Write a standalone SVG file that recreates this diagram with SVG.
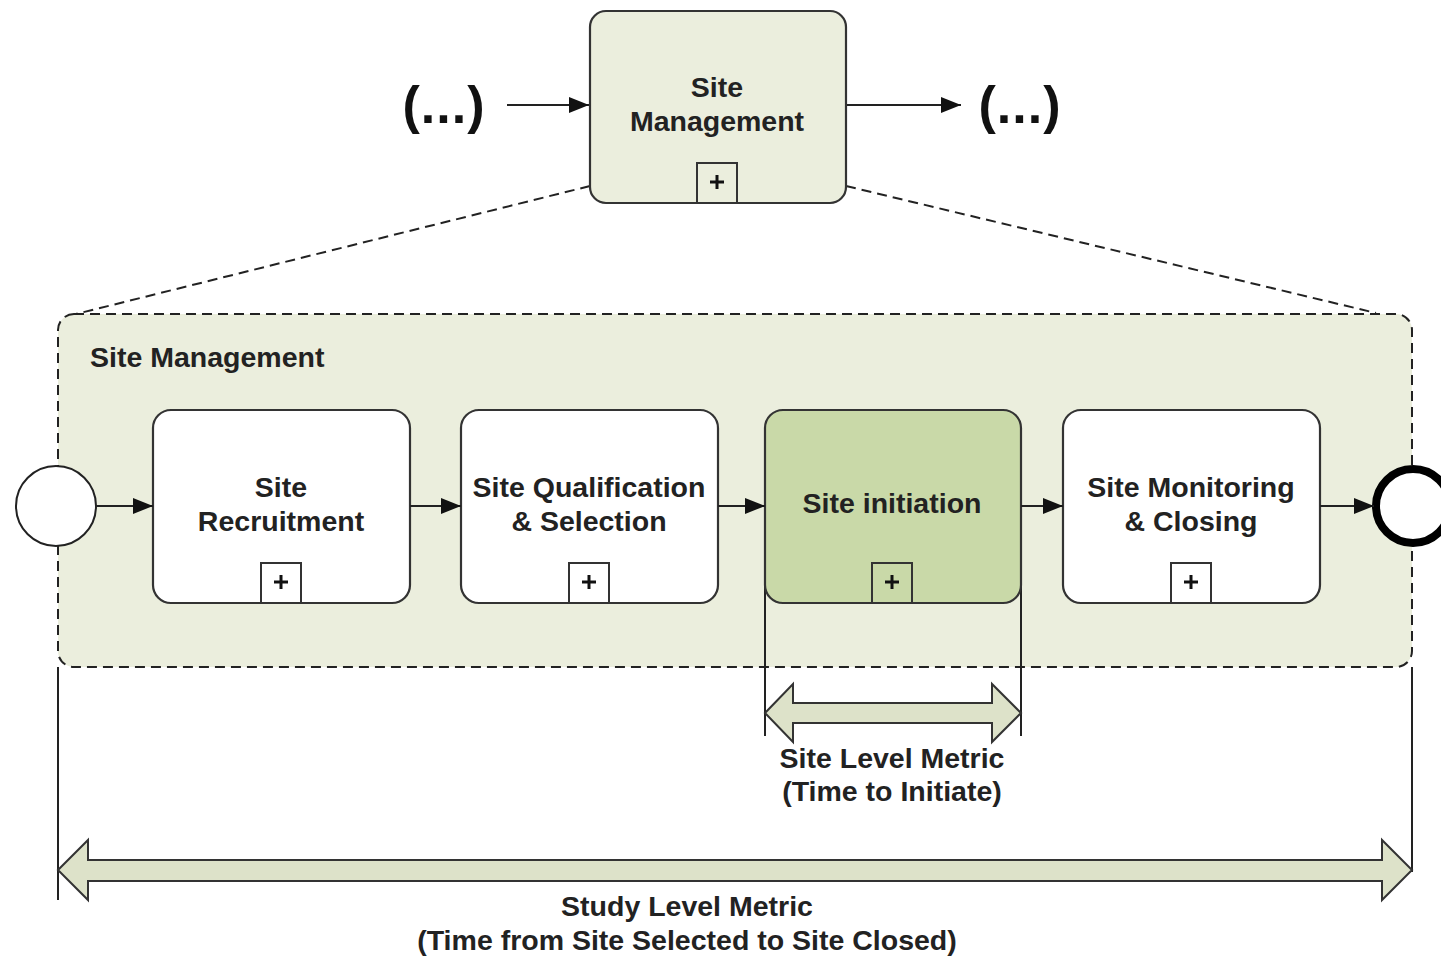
<svg xmlns="http://www.w3.org/2000/svg" width="1441" height="958" viewBox="0 0 1441 958">
  <style>
    .lbl { font-family: "Liberation Sans", Arial, sans-serif; font-weight: bold; font-size: 28.5px; fill: #222; text-anchor: middle; }
    .task { stroke: #333; stroke-width: 2.2; }
    .plus { fill: none; stroke: #333; stroke-width: 2; }
    .plusmark { stroke: #111; stroke-width: 3; }
    .flow { stroke: #222; stroke-width: 2; fill: none; }
    .dash { stroke: #222; stroke-width: 2; fill: none; stroke-dasharray: 10 6; }
    .pool { fill: #ebeedd; stroke: #222; stroke-width: 2; stroke-dasharray: 10 6; }
    .metric { fill: #dde2c9; stroke: #333; stroke-width: 2; }
    .bound { stroke: #222; stroke-width: 2; fill: none; }
    .ell { font-family: "Liberation Sans", Arial, sans-serif; font-weight: bold; font-size: 52px; fill: #111; text-anchor: middle; letter-spacing: 1px; }
  </style>
  <defs>
    <marker id="arrow" viewBox="0 0 20 16" refX="20" refY="8" markerWidth="20" markerHeight="16" markerUnits="userSpaceOnUse" orient="auto">
      <path d="M0,0 L20,8 L0,16 Z" fill="#111"/>
    </marker>
    <g id="plusIcon">
      <rect x="-20" y="-40" width="40" height="40" fill="#fff" class="plus"/>
      <line x1="-7" y1="-21" x2="7" y2="-21" class="plusmark"/>
      <line x1="0" y1="-28" x2="0" y2="-14" class="plusmark"/>
    </g>
  </defs>

  <rect width="1441" height="958" fill="#fff"/>

  <!-- expansion guides from collapsed sub-process to its expanded view -->
  <g id="guides">
    <line x1="590" y1="186" x2="76" y2="314" class="dash"/>
    <line x1="846" y1="186" x2="1376" y2="313" class="dash"/>
  </g>

  <!-- expanded sub-process container -->
  <g id="container">
    <rect x="58" y="314" width="1354" height="353" rx="16" class="pool"/>
    <text x="90" y="367" class="lbl" style="text-anchor:start">Site Management</text>
  </g>

  <!-- collapsed sub-process -->
  <g id="site-management">
    <rect x="590" y="11" width="256" height="192" rx="16" fill="#ebeedd" class="task"/>
    <text x="717" y="97" class="lbl">Site</text>
    <text x="717" y="131" class="lbl">Management</text>
    <use href="#plusIcon" x="717" y="203"/>
  </g>
  <g id="prev-ellipsis"><text x="444" y="123" class="ell">(...)</text></g>
  <g id="next-ellipsis"><text x="1020" y="123" class="ell">(...)</text></g>

  <!-- metric boundary lines -->
  <g id="bounds">
    <line x1="765" y1="553" x2="765" y2="736" class="bound"/>
    <line x1="1021" y1="553" x2="1021" y2="736" class="bound"/>
    <line x1="58" y1="667" x2="58" y2="900" class="bound"/>
    <line x1="1412" y1="667" x2="1412" y2="872" class="bound"/>
  </g>

  <!-- events -->
  <g id="start-event">
    <circle cx="56" cy="506" r="40" fill="#fff" stroke="#222" stroke-width="2"/>
  </g>
  <g id="end-event">
    <circle cx="1413" cy="506" r="37" fill="#fff" stroke="#000" stroke-width="8"/>
  </g>

  <!-- tasks -->
  <g id="site-recruitment">
    <rect x="153" y="410" width="257" height="193" rx="18" fill="#fff" class="task"/>
    <text x="281" y="497" class="lbl">Site</text>
    <text x="281" y="531" class="lbl">Recruitment</text>
    <use href="#plusIcon" x="281" y="603"/>
  </g>
  <g id="site-qualification">
    <rect x="461" y="410" width="257" height="193" rx="18" fill="#fff" class="task"/>
    <text x="589" y="497" class="lbl">Site Qualification</text>
    <text x="589" y="531" class="lbl">&amp; Selection</text>
    <use href="#plusIcon" x="589" y="603"/>
  </g>
  <g id="site-initiation">
    <rect x="765" y="410" width="256" height="193" rx="18" fill="#c9d9a8" class="task"/>
    <text x="892" y="513" class="lbl">Site initiation</text>
    <use href="#plusIcon" x="892" y="603"/>
  </g>
  <g id="site-monitoring">
    <rect x="1063" y="410" width="257" height="193" rx="18" fill="#fff" class="task"/>
    <text x="1191" y="497" class="lbl">Site Monitoring</text>
    <text x="1191" y="531" class="lbl">&amp; Closing</text>
    <use href="#plusIcon" x="1191" y="603"/>
  </g>

  <!-- sequence flows -->
  <g id="connectors">
    <line x1="507" y1="105" x2="589" y2="105" class="flow" marker-end="url(#arrow)"/>
    <line x1="847" y1="105" x2="961" y2="105" class="flow" marker-end="url(#arrow)"/>
    <line x1="96" y1="506" x2="153" y2="506" class="flow" marker-end="url(#arrow)"/>
    <line x1="410" y1="506" x2="461" y2="506" class="flow" marker-end="url(#arrow)"/>
    <line x1="718" y1="506" x2="765" y2="506" class="flow" marker-end="url(#arrow)"/>
    <line x1="1021" y1="506" x2="1063" y2="506" class="flow" marker-end="url(#arrow)"/>
    <line x1="1320" y1="506" x2="1374" y2="506" class="flow" marker-end="url(#arrow)"/>
  </g>

  <!-- site level metric -->
  <g id="site-metric">
    <path d="M765,713 L793,684 L793,703 L992,703 L992,684 L1021,713 L992,742 L992,723 L793,723 L793,742 Z" class="metric"/>
    <text x="892" y="768" class="lbl">Site Level Metric</text>
    <text x="892" y="801" class="lbl">(Time to Initiate)</text>
  </g>

  <!-- study level metric -->
  <g id="study-metric">
    <path d="M58,870 L88,840 L88,860 L1382,860 L1382,840 L1412,870 L1382,900 L1382,881 L88,881 L88,900 Z" class="metric"/>
    <text x="687" y="916" class="lbl">Study Level Metric</text>
    <text x="687" y="950" class="lbl">(Time from Site Selected to Site Closed)</text>
  </g>
</svg>
